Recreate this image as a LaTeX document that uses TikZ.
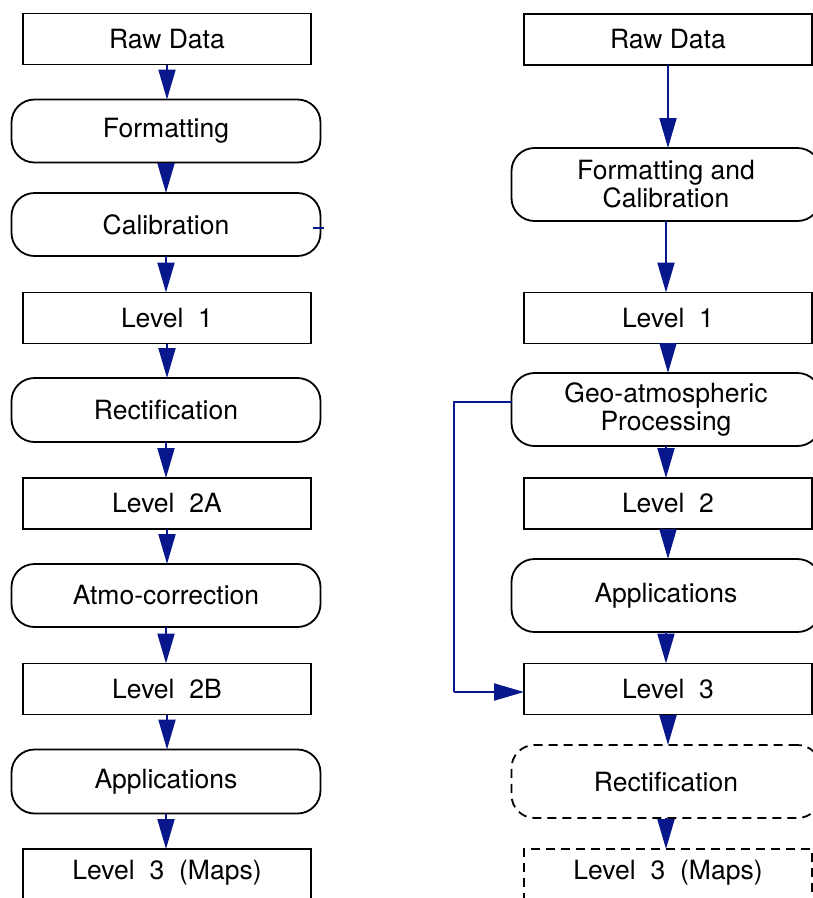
\documentclass[tikz,border=0pt]{standalone}
\usepackage{fontspec}
\setmainfont{TeX Gyre Heros}
\usetikzlibrary{arrows.meta}
\definecolor{arrowblue}{RGB}{8,24,140}
\newcommand{\wsp}{\hspace{0.56em}}
\tikzset{
  x=1pt, y=-1pt,
  base/.style={draw=black, line width=1.8pt, inner sep=0pt, outer sep=0pt, align=center,
    font=\fontsize{26.5}{28}\selectfont, text=black},
  rectbox/.style={base, minimum width=288, minimum height=51},
  roundbox/.style={base, rounded corners=23, minimum width=309},
  dashbox/.style={dash pattern=on 9pt off 6pt},
  flow/.style={draw=arrowblue, line width=2pt, -{Triangle[length=30pt,width=17pt]}},
  plain/.style={draw=arrowblue, line width=2pt}
}
\begin{document}
\begin{tikzpicture}
\clip (0,0) rectangle (813,898);
\fill[white] (0,0) rectangle (813,898);
% left column
\node[rectbox] (rawL) at (167,39) {Raw Data};
\node[roundbox, minimum height=63] (fmtL) at (166,131) {Formatting};
\node[roundbox, minimum height=63] (calL) at (166,224.5) {Calibration};
\node[rectbox] (l1L) at (167,318) {Level\wsp1};
\node[roundbox, minimum height=64] (rectL) at (166,410) {Rectification};
\node[rectbox] (l2aL) at (167,503.5) {Level\wsp2A};
\node[roundbox, minimum height=63] (atmoL) at (166,595.5) {Atmo-correction};
\node[rectbox] (l2bL) at (167,689) {Level\wsp2B};
\node[roundbox, minimum height=64] (appL) at (166,781.5) {Applications};
\node[rectbox, minimum height=100, text height=18pt, text depth=57pt] (l3L) at (167,899) {Level\wsp3\wsp(Maps)};
\foreach \a/\b in {rawL/fmtL, fmtL/calL, calL/l1L, l1L/rectL, rectL/l2aL, l2aL/atmoL, atmoL/l2bL, l2bL/appL, appL/l3L}
  \draw[flow] (\a.south) -- (\a.south |- \b.north);
\coordinate (tick) at (324,228);
\draw[plain] (calL.east |- tick) ++(-8,0) -- (tick);
% right column
\node[rectbox] (rawR) at (668,39.5) {Raw Data};
\node[roundbox, minimum height=73] (fcR) at (666,184.5) {Formatting and\\Calibration};
\node[rectbox] (l1R) at (668,318) {Level\wsp1};
\node[roundbox, minimum height=73] (geoR) at (666,409.5) {Geo-atmospheric\\Processing};
\node[rectbox] (l2R) at (668,503.5) {Level\wsp2};
\node[roundbox, minimum height=73] (appR) at (666,595.5) {Applications};
\node[rectbox] (l3R) at (668,689) {Level\wsp3};
\node[roundbox, dashbox, minimum height=73] (rectR) at (666,781.5) {Rectification};
\node[rectbox, dashbox, minimum height=100, text height=18pt, text depth=57pt] (l3mR) at (668,899) {Level\wsp3\wsp(Maps)};
\foreach \a/\b in {rawR/fcR, fcR/l1R, l1R/geoR, geoR/l2R, l2R/appR, appR/l3R, l3R/rectR, rectR/l3mR}
  \draw[flow] (\a.south) -- (\a.south |- \b.north);
\coordinate (byp) at (454,402);
\coordinate (bypb) at (454,692);
\draw[plain] (geoR.west |- byp) -- (byp) -- (bypb);
\draw[flow] (bypb) -- (l3R.west |- bypb);
\end{tikzpicture}
\end{document}
